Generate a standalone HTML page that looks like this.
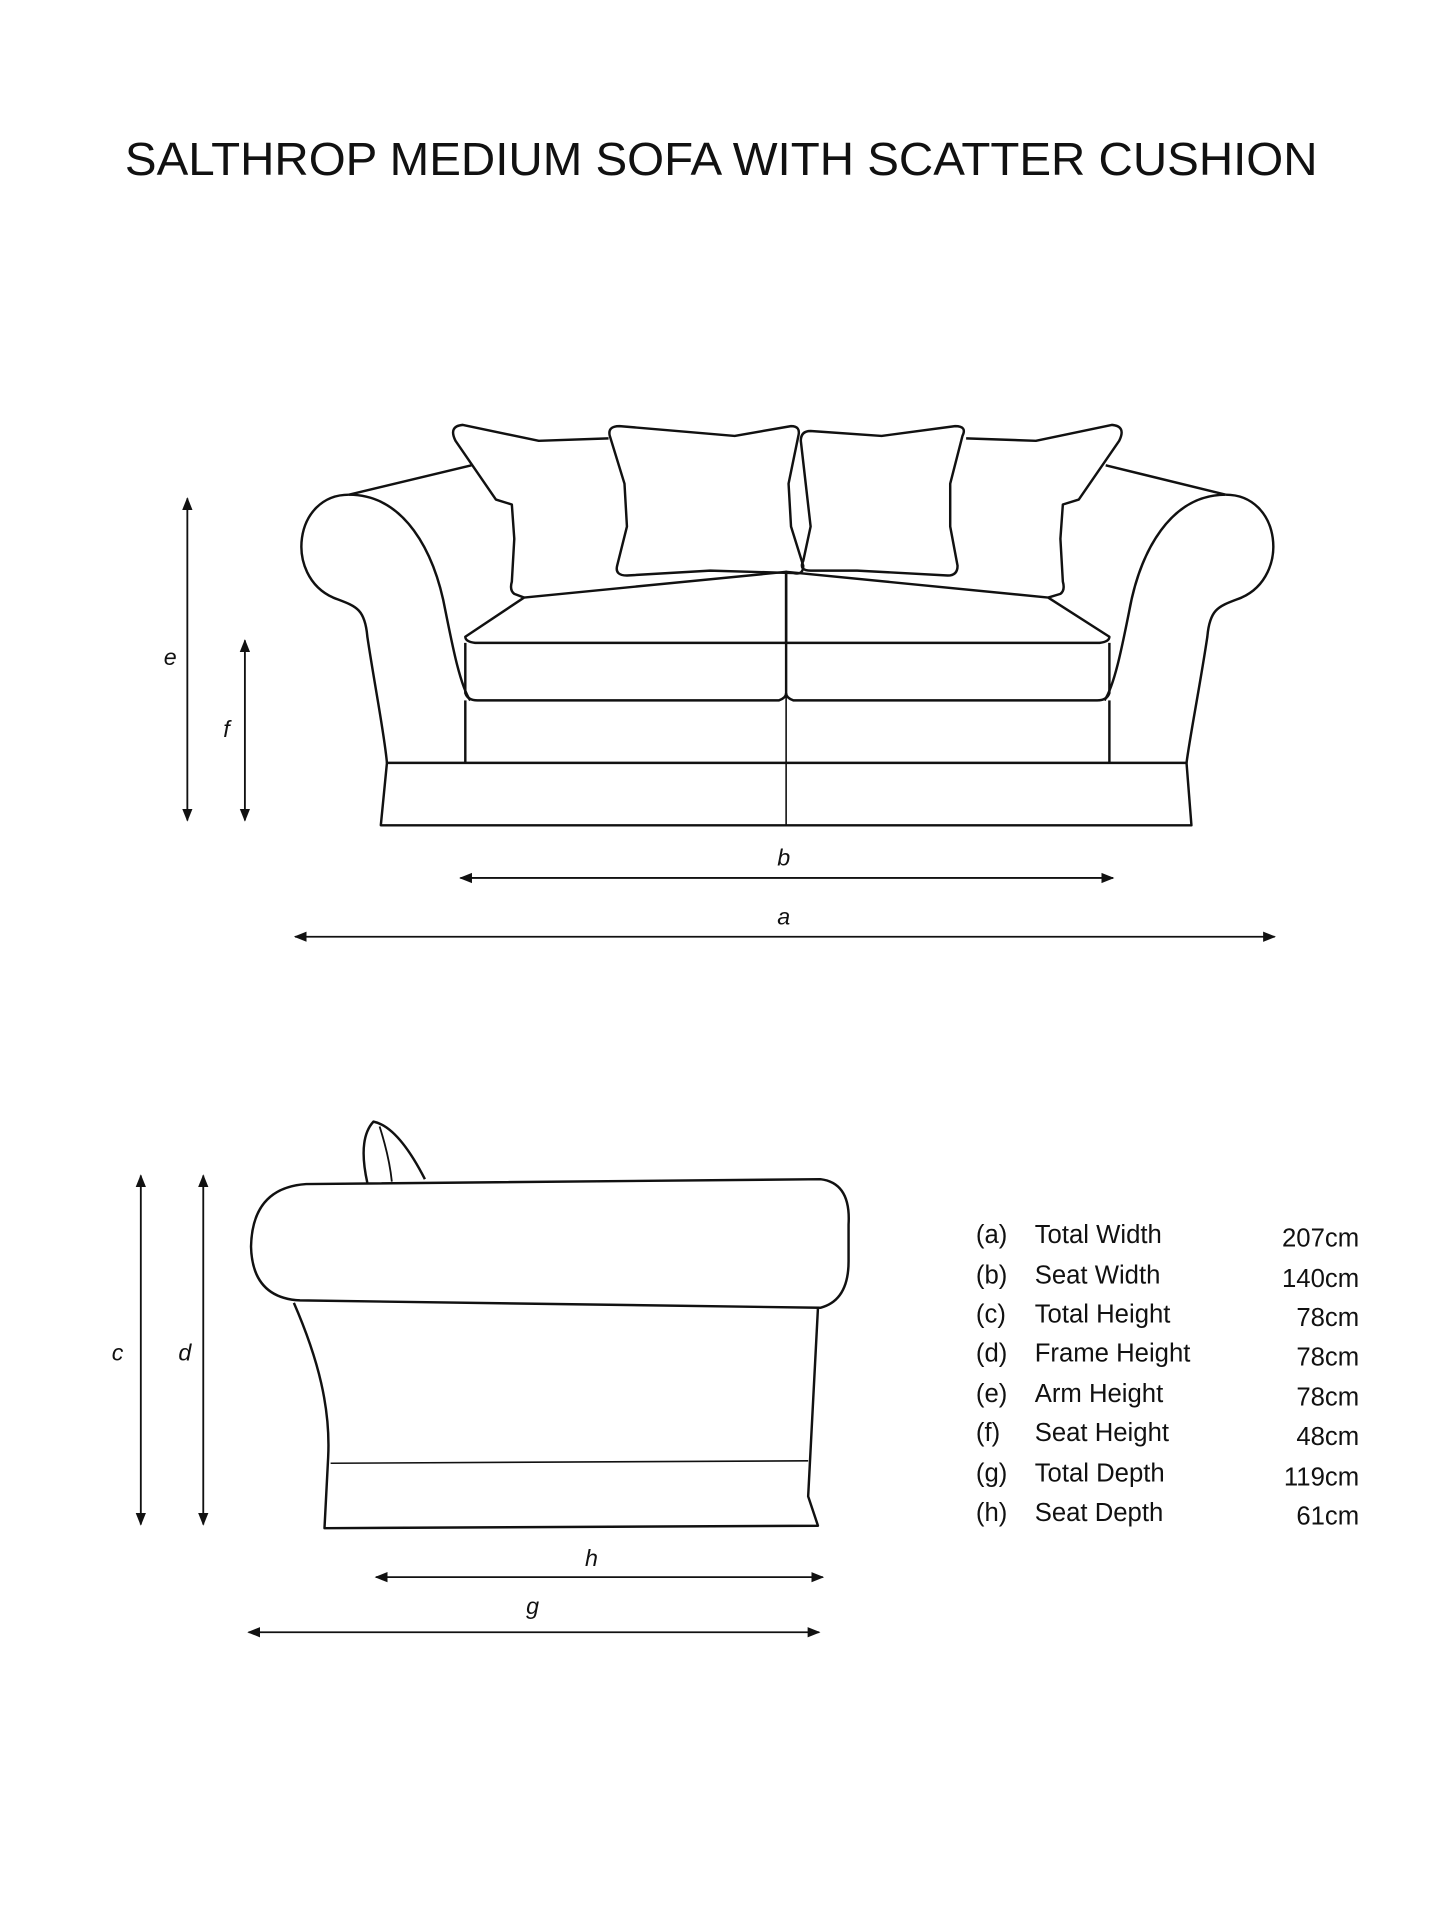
<!DOCTYPE html>
<html><head><meta charset="utf-8"><style>
html,body{margin:0;padding:0;background:#fff;}
svg{display:block;}
text{font-family:"Liberation Sans",sans-serif;fill:#111;}
</style></head><body>
<svg width="1440" height="1920" viewBox="0 0 1176 1568" xmlns="http://www.w3.org/2000/svg">
<defs>
<marker id="ar" viewBox="0 0 10 10" refX="9" refY="5" markerWidth="7" markerHeight="7" orient="auto-start-reverse"><path d="M0,1 L10,5 L0,9 z" fill="#111"/></marker>
</defs>
<text x="589" y="143" font-size="38" text-anchor="middle" textLength="974" lengthAdjust="spacingAndGlyphs">SALTHROP MEDIUM SOFA WITH SCATTER CUSHION</text>

<g fill="none" stroke="#111" stroke-width="2" stroke-linejoin="round">
<path d="M316,623 L969,623 L973,674 L311,674 Z"/>
<line x1="642" y1="467" x2="642" y2="674" stroke-width="1.3"/>
<path d="M380,520 L428,488 L642,467 L642,525 L388,525 Q380,524 380,520 Z"/>
<path d="M906,520 L856,488 L642,467 L642,525 L898,525 Q906,524 906,520 Z"/>
<path d="M380,525 L380,566 Q382,572 390,572 L636,572 Q642,570 642,566 L642,525"/>
<path d="M906,525 L906,566 Q904,572 896,572 L648,572 Q642,570 642,566"/>
<line x1="380" y1="572" x2="380" y2="623"/>
<line x1="906" y1="572" x2="906" y2="623"/>
<path d="M285,404 C240,404 232,470 272,488 C290,495 298,496 300,520 C306,560 314,600 316,623"/>
<path d="M285,404 C330,404 355,450 364,500 C370,530 376,560 384,572"/>
<line x1="285" y1="404" x2="385" y2="380"/>
<path d="M1001,404 C1046,404 1054,470 1014,488 C996,495 988,496 986,520 C980,560 972,600 969,623"/>
<path d="M1001,404 C956,404 931,450 922,500 C916,530 910,560 902,572"/>
<line x1="1001" y1="404" x2="903" y2="380"/>
<path d="M428,488 L420,485 Q416,482 418,475 L420,440 L418,412 L405,408 L372,360 Q366,348 378,347 L440,360 L497,358"/>
<path d="M856,488 L866,485 Q870,482 868,475 L866,440 L868,412 L881,408 L914,360 Q920,348 908,347 L846,360 L789,358"/>
<path d="M506,348 L600,356 L646,348 Q654,348 652,356 L644,395 L646,430 L656,462 Q656,470 648,468 L580,466 L512,470 Q502,470 504,462 L512,430 L510,395 L498,356 Q496,348 506,348 Z"/>
<path d="M662,352 L720,356 L780,348 Q790,348 786,356 L776,395 L776,430 L782,462 Q782,470 774,470 L700,466 L662,466 Q652,466 656,458 L662,430 L658,395 L654,360 Q654,352 662,352 Z"/>
<path d="M250,967 L670,963 Q695,966 693,1000 L693,1030 Q693,1062 670,1068 L245,1062 Q206,1060 205,1018 Q206,970 250,967 Z"/>
<path d="M240,1064 C260,1110 270,1150 268,1190 L265,1248 L668,1246 L660,1222 L668,1068"/>
<line x1="270" y1="1195" x2="660" y2="1193" stroke-width="1.3"/>
<path d="M300,966 Q292,930 305,916 Q325,920 347,963"/>
<path d="M310,920 Q318,945 320,965" stroke-width="1.5"/>
</g>

<g stroke="#111" stroke-width="1.5" marker-start="url(#ar)" marker-end="url(#ar)">
<line x1="153" y1="407" x2="153" y2="670"/>
<line x1="200" y1="523" x2="200" y2="670"/>
<line x1="376" y1="717" x2="909" y2="717"/>
<line x1="241" y1="765" x2="1041" y2="765"/>
<line x1="115" y1="960" x2="115" y2="1245"/>
<line x1="166" y1="960" x2="166" y2="1245"/>
<line x1="307" y1="1288" x2="672" y2="1288"/>
<line x1="203" y1="1333" x2="669" y2="1333"/>
</g>
<g font-size="19" font-style="italic" text-anchor="middle">
<text x="139" y="543">e</text><text x="185" y="602">f</text>
<text x="640" y="707">b</text><text x="640" y="755">a</text>
<text x="96" y="1111">c</text><text x="151" y="1111">d</text>
<text x="483" y="1279">h</text><text x="435" y="1318">g</text>
</g>
<g font-size="21">
<text x="797" y="1015">(a)</text><text x="845" y="1015">Total Width</text><text x="1110" y="1018" text-anchor="end">207cm</text>
<text x="797" y="1048">(b)</text><text x="845" y="1048">Seat Width</text><text x="1110" y="1051" text-anchor="end">140cm</text>
<text x="797" y="1080">(c)</text><text x="845" y="1080">Total Height</text><text x="1110" y="1083" text-anchor="end">78cm</text>
<text x="797" y="1112">(d)</text><text x="845" y="1112">Frame Height</text><text x="1110" y="1115" text-anchor="end">78cm</text>
<text x="797" y="1145">(e)</text><text x="845" y="1145">Arm Height</text><text x="1110" y="1148" text-anchor="end">78cm</text>
<text x="797" y="1177">(f)</text><text x="845" y="1177">Seat Height</text><text x="1110" y="1180" text-anchor="end">48cm</text>
<text x="797" y="1210">(g)</text><text x="845" y="1210">Total Depth</text><text x="1110" y="1213" text-anchor="end">119cm</text>
<text x="797" y="1242">(h)</text><text x="845" y="1242">Seat Depth</text><text x="1110" y="1245" text-anchor="end">61cm</text>
</g>
</svg>
</body></html>
